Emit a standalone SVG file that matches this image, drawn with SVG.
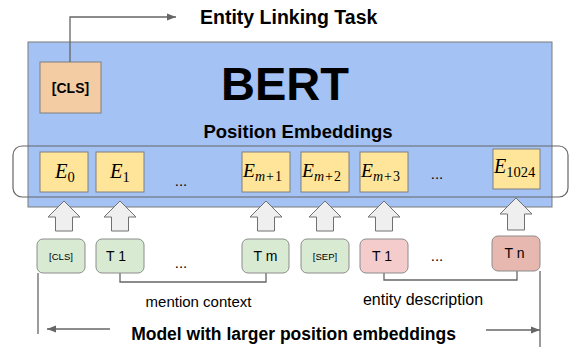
<svg xmlns="http://www.w3.org/2000/svg" width="570" height="347" viewBox="0 0 570 347">
<style>
.bold{font-family:"Liberation Sans",Arial,sans-serif;font-weight:bold;fill:#000}
.reg{font-family:"Liberation Sans",Arial,sans-serif;fill:#000}
.math{font-family:"Liberation Serif","Times New Roman",serif;fill:#000}
.emb{fill:#ffe599;stroke:#7f7f7f;stroke-width:1}
.tok{stroke:#8c8c8c;stroke-width:1}
.ln{fill:none;stroke:#666;stroke-width:1.3}
.blk{fill:#efefef;stroke:#707070;stroke-width:1}
</style>
<defs>
<marker id="ah" viewBox="0 0 10 10" refX="10" refY="5" markerWidth="9" markerHeight="9" markerUnits="userSpaceOnUse" orient="auto">
<path d="M0,1 L10,5 L0,9 Z" fill="#666"/>
</marker>
</defs>
<rect width="570" height="347" fill="#fff"/>
<g id="bert">
<rect x="28" y="42" width="524" height="165" fill="#a4c2f4" stroke="#7a7a7a" stroke-width="1"/>
<text class="bold" x="285" y="100" font-size="47" text-anchor="middle">BERT</text>
<text class="bold" x="298" y="138" font-size="18.5" text-anchor="middle">Position Embeddings</text>
</g>
<g id="cls-out">
<rect x="40" y="62" width="61" height="51" fill="#f4cca4" stroke="#7f7f7f" stroke-width="1"/>
<text class="bold" x="70.5" y="93" font-size="14" text-anchor="middle">[CLS]</text>
</g>
<g id="task">
<text class="bold" x="200" y="24" font-size="19.5">Entity Linking Task</text>
</g>
<g id="embeddings-frame">
<rect x="13" y="146" width="555" height="51" rx="9" fill="none" stroke="#666" stroke-width="1.2"/>
</g>
<g id="e0">
<rect class="emb" x="40" y="152" width="48" height="40"/>
<text class="math" x="55" y="178" font-size="20.5"><tspan font-style="italic">E</tspan><tspan dy="4" font-size="14.5">0</tspan></text>
</g>
<g id="e1">
<rect class="emb" x="96" y="152" width="48" height="40"/>
<text class="math" x="110" y="178" font-size="20.5"><tspan font-style="italic">E</tspan><tspan dy="4" font-size="14.5">1</tspan></text>
</g>
<g id="dots1"><text class="reg" x="181" y="186" font-size="15" text-anchor="middle">...</text></g>
<g id="em1">
<rect class="emb" x="242" y="152" width="48" height="40"/>
<text class="math" x="243" y="177" font-size="19.5"><tspan font-style="italic">E</tspan><tspan dy="4" font-size="14"><tspan font-style="italic">m</tspan><tspan dx="1">+</tspan><tspan dx="1">1</tspan></tspan></text>
</g>
<g id="em2">
<rect class="emb" x="301" y="152" width="48" height="40"/>
<text class="math" x="302" y="177" font-size="19.5"><tspan font-style="italic">E</tspan><tspan dy="4" font-size="14"><tspan font-style="italic">m</tspan><tspan dx="1">+</tspan><tspan dx="1">2</tspan></tspan></text>
</g>
<g id="em3">
<rect class="emb" x="360" y="152" width="48" height="40"/>
<text class="math" x="361" y="177" font-size="19.5"><tspan font-style="italic">E</tspan><tspan dy="4" font-size="14"><tspan font-style="italic">m</tspan><tspan dx="1">+</tspan><tspan dx="1">3</tspan></tspan></text>
</g>
<g id="dots2"><text class="reg" x="437" y="179" font-size="15" text-anchor="middle">...</text></g>
<g id="e1024">
<rect class="emb" x="493" y="149" width="47" height="40"/>
<text class="math" x="494" y="173" font-size="20"><tspan font-style="italic">E</tspan><tspan dy="4" font-size="14.5">1024</tspan></text>
</g>
<g id="connectors">
<polyline class="ln" points="70,62 70,17 176,17" marker-end="url(#ah)"/>
<path class="blk" d="M64,201 L80,217 L72.5,217 L72.5,231 L55.5,231 L55.5,217 L48,217 Z"/>
<path class="blk" d="M120,201 L136,217 L128.5,217 L128.5,231 L111.5,231 L111.5,217 L104,217 Z"/>
<path class="blk" d="M266,201 L282,217 L274.5,217 L274.5,231 L257.5,231 L257.5,217 L250,217 Z"/>
<path class="blk" d="M325,201 L341,217 L333.5,217 L333.5,231 L316.5,231 L316.5,217 L309,217 Z"/>
<path class="blk" d="M384,201 L400,217 L392.5,217 L392.5,231 L375.5,231 L375.5,217 L368,217 Z"/>
<path class="blk" d="M516,198 L532,214 L524.5,214 L524.5,230 L507.5,230 L507.5,214 L500,214 Z"/>
<polyline class="ln" points="120,273 120,282 266,282 266,273"/>
<polyline class="ln" points="384,273 384,280 517,280 517,271"/>
<line class="ln" x1="38" y1="273" x2="38" y2="334"/>
<line class="ln" x1="540" y1="271" x2="540" y2="347"/>
<line class="ln" x1="110" y1="329" x2="47" y2="329" marker-end="url(#ah)"/>
<line class="ln" x1="486" y1="330" x2="540" y2="330" marker-end="url(#ah)"/>
</g>
<g id="tok-cls">
<rect class="tok" x="37" y="239" width="48" height="34" rx="6" fill="#d9ead3"/>
<text class="reg" x="61" y="259.5" font-size="9.5" text-anchor="middle">[CLS]</text>
</g>
<g id="tok-t1">
<rect class="tok" x="96" y="239" width="48" height="34" rx="6" fill="#d9ead3"/>
<text class="reg" x="116" y="261" font-size="14" text-anchor="middle">T 1</text>
</g>
<g id="dots3"><text class="reg" x="181" y="268" font-size="15" text-anchor="middle">...</text></g>
<g id="tok-tm">
<rect class="tok" x="242" y="239" width="47" height="34" rx="6" fill="#d9ead3"/>
<text class="reg" x="265.5" y="261" font-size="14" text-anchor="middle">T m</text>
</g>
<g id="tok-sep">
<rect class="tok" x="301" y="239" width="48" height="34" rx="6" fill="#d9ead3"/>
<text class="reg" x="325" y="259.5" font-size="9.5" text-anchor="middle">[SEP]</text>
</g>
<g id="tok-et1">
<rect class="tok" x="360" y="239" width="48" height="34" rx="6" fill="#f4cccc"/>
<text class="reg" x="382" y="261" font-size="14" text-anchor="middle">T 1</text>
</g>
<g id="dots4"><text class="reg" x="437" y="261" font-size="15" text-anchor="middle">...</text></g>
<g id="tok-tn">
<rect class="tok" x="492" y="236" width="48" height="35" rx="6" fill="#e6b8af"/>
<text class="reg" x="514.5" y="258" font-size="14" text-anchor="middle">T n</text>
</g>
<g id="labels">
<text class="reg" x="198.5" y="307" font-size="15" text-anchor="middle">mention context</text>
<text class="reg" x="423" y="305" font-size="16" text-anchor="middle">entity description</text>
<text class="bold" x="293.5" y="340" font-size="17.5" text-anchor="middle">Model with larger position embeddings</text>
</g>
</svg>
